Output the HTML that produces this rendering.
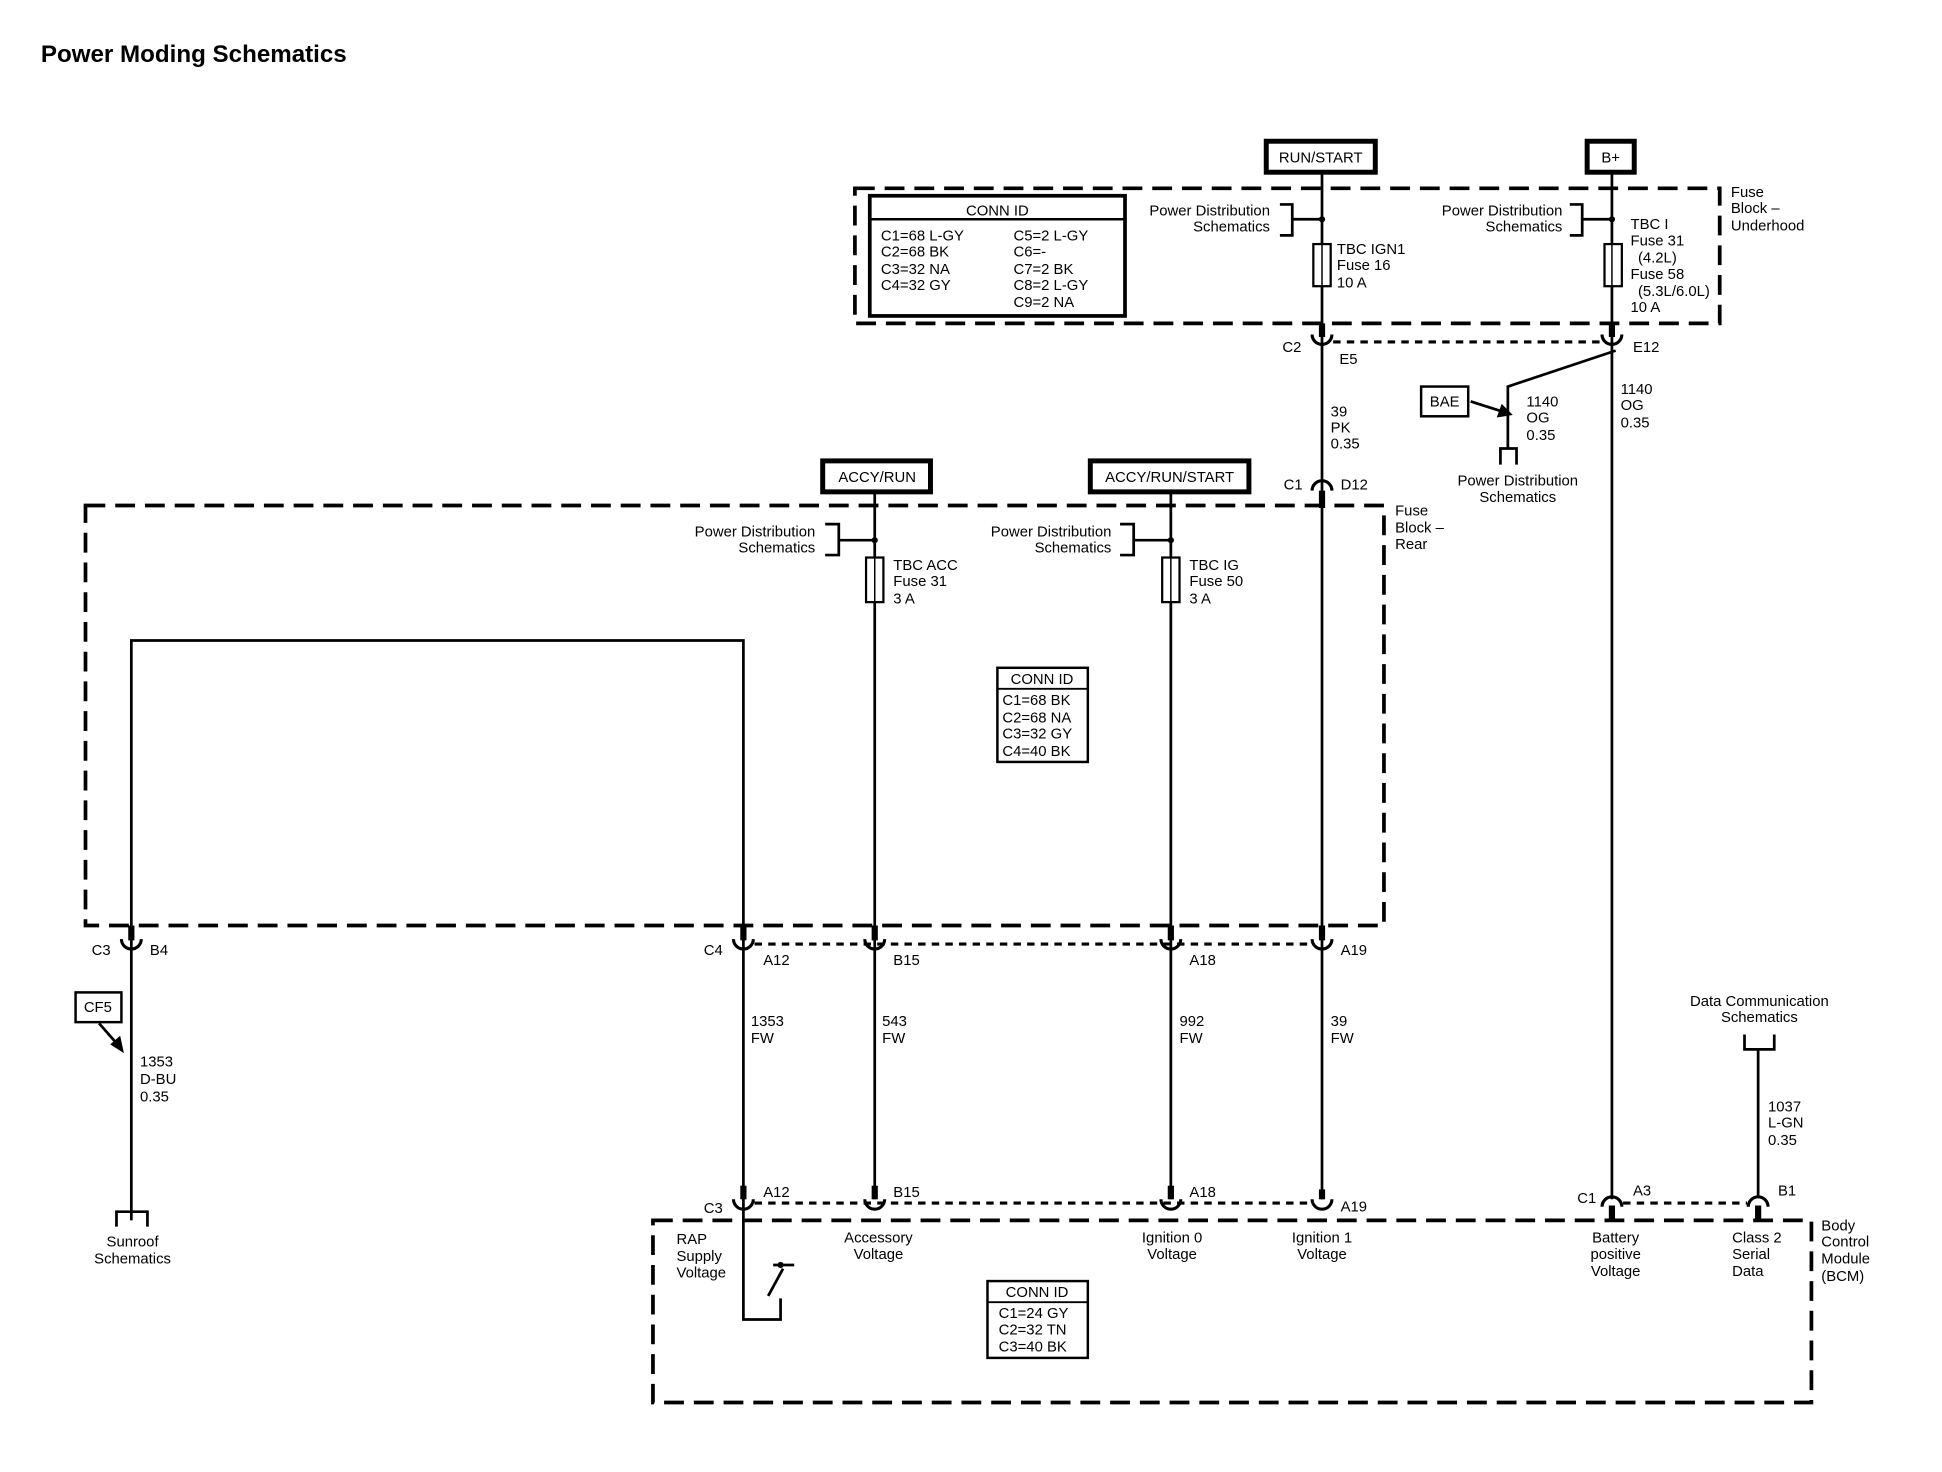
<!DOCTYPE html>
<html><head><meta charset="utf-8"><style>
html,body{margin:0;padding:0;background:#fff;}
svg{display:block;}
text{font-family:"Liberation Sans",Arial,sans-serif;font-size:12px;fill:#000;}
</style></head><body>
<svg width="1942" height="1472" viewBox="0 0 1567.4 1188.1" preserveAspectRatio="none" xmlns="http://www.w3.org/2000/svg">
<g fill="none" stroke="#000">
<rect x="690" y="152" width="698" height="109" stroke-width="3" stroke-dasharray="16,8"/>
<rect x="69" y="408" width="1048" height="339" stroke-width="3" stroke-dasharray="16,8"/>
<rect x="527" y="985" width="935" height="147" stroke-width="3" stroke-dasharray="16,8"/>
<rect x="1022" y="114" width="88" height="25" stroke-width="4"/>
<rect x="1281" y="114" width="38" height="25" stroke-width="4"/>
<rect x="664" y="372" width="87" height="25" stroke-width="4"/>
<rect x="880" y="372" width="128" height="25" stroke-width="4"/>
<rect x="1147" y="312" width="38" height="24" stroke-width="2"/>
<rect x="61" y="801" width="37" height="24" stroke-width="2"/>
<rect x="702" y="158" width="206" height="97" stroke-width="3"/>
<line x1="702" y1="177" x2="908" y2="177" stroke-width="2"/>
<rect x="805" y="539" width="73" height="76" stroke-width="2"/>
<line x1="805" y1="556" x2="878" y2="556" stroke-width="1.5"/>
<rect x="797" y="1034" width="81" height="62" stroke-width="2"/>
<line x1="797" y1="1051" x2="878" y2="1051" stroke-width="1.5"/>
<g stroke-width="2.2">
<line x1="1067" y1="140" x2="1067" y2="968"/>
<line x1="1301" y1="140" x2="1301" y2="968"/>
<line x1="706" y1="398" x2="706" y2="968"/>
<line x1="945" y1="398" x2="945" y2="968"/>
<polyline points="106,985 106,517 600,517 600,1065 630,1065 630,1048"/>
<line x1="1419" y1="847" x2="1419" y2="966"/>
<polyline points="1304,283 1217,312 1217,362"/>
<polyline points="1211,375 1211,362 1224,362 1224,375"/>
<polyline points="94,990 94,978 119,978 119,990"/>
<polyline points="1408,835 1408,847 1432,847 1432,835"/>
<polyline points="1033,165 1043,165 1043,190 1033,190"/><line x1="1043" y1="177" x2="1067" y2="177"/>
<polyline points="1267,165 1277,165 1277,190 1267,190"/><line x1="1277" y1="177" x2="1301" y2="177"/>
<polyline points="666,423 677,423 677,448 666,448"/><line x1="677" y1="436" x2="706" y2="436"/>
<polyline points="904,423 915,423 915,448 904,448"/><line x1="915" y1="436" x2="945" y2="436"/>
<line x1="620" y1="1046" x2="632" y2="1024"/>
<line x1="624" y1="1021" x2="641" y2="1021"/>
<line x1="1187" y1="324" x2="1212" y2="332"/>
<line x1="80" y1="826" x2="94" y2="842"/>
</g>
<polygon points="1221,335 1208,337 1212,326" fill="#000" stroke="none"/>
<polygon points="100,850 89,843 97,836" fill="#000" stroke="none"/>
<g stroke-width="1.8" fill="#fff">
<rect x="1060" y="197" width="14" height="34"/>
<rect x="1295" y="197" width="14" height="34"/>
<rect x="699" y="450" width="14" height="36"/>
<rect x="938" y="450" width="14" height="36"/>
</g>
<g stroke-width="1.2"><line x1="1067" y1="197" x2="1067" y2="231"/><line x1="1301" y1="197" x2="1301" y2="231"/><line x1="706" y1="450" x2="706" y2="486"/><line x1="945" y1="450" x2="945" y2="486"/></g>
<g stroke-width="2.5" stroke-dasharray="6,5">
<line x1="1076" y1="276" x2="1294" y2="276"/>
<line x1="609" y1="762" x2="1060" y2="762"/>
<line x1="609" y1="971" x2="1060" y2="971"/>
<line x1="1310" y1="971" x2="1410" y2="971"/>
</g>
<g stroke-width="5">
<line x1="1067" y1="261" x2="1067" y2="272"/><line x1="1301" y1="261" x2="1301" y2="272"/>
<line x1="1067" y1="396" x2="1067" y2="410"/>
<line x1="106" y1="747" x2="106" y2="759"/><line x1="600" y1="747" x2="600" y2="759"/><line x1="706" y1="747" x2="706" y2="759"/><line x1="945" y1="747" x2="945" y2="759"/><line x1="1067" y1="747" x2="1067" y2="759"/>
<line x1="600" y1="957" x2="600" y2="968"/><line x1="706" y1="957" x2="706" y2="968"/><line x1="945" y1="957" x2="945" y2="968"/><line x1="1067" y1="960" x2="1067" y2="968"/>
<line x1="1301" y1="973" x2="1301" y2="986"/><line x1="1419" y1="973" x2="1419" y2="986"/>
</g>
<g stroke-width="2.5">
<path d="M1059,270 a8,8 0 0 0 16,0"/><path d="M1293,270 a8,8 0 0 0 16,0"/>
<path d="M1059,396 a8,8 0 0 1 16,0"/>
<path d="M98,758 a8,8 0 0 0 16,0"/><path d="M592,758 a8,8 0 0 0 16,0"/><path d="M698,758 a8,8 0 0 0 16,0"/><path d="M937,758 a8,8 0 0 0 16,0"/><path d="M1059,758 a8,8 0 0 0 16,0"/>
<path d="M592,968 a8,8 0 0 0 16,0"/><path d="M698,968 a8,8 0 0 0 16,0"/><path d="M937,968 a8,8 0 0 0 16,0"/><path d="M1059,968 a8,8 0 0 0 16,0"/>
<path d="M1293,974 a8,8 0 0 1 16,0"/><path d="M1411,974 a8,8 0 0 1 16,0"/>
</g>
</g>
<g fill="#000"><circle cx="1067" cy="177" r="2.5"/><circle cx="1301" cy="177" r="2.5"/><circle cx="706" cy="436" r="2.5"/><circle cx="945" cy="436" r="2.5"/><circle cx="630" cy="1021" r="2.5"/></g>

<text x="33" y="50" style="font-size:19.5px;font-weight:bold">Power Moding Schematics</text>
<g style="font-size:13px">
<text x="1066" y="131" text-anchor="middle">RUN/START</text>
<text x="1300" y="131" text-anchor="middle">B+</text>
<text x="708" y="389" text-anchor="middle">ACCY/RUN</text>
<text x="944" y="389" text-anchor="middle">ACCY/RUN/START</text>
<text x="1166" y="328" text-anchor="middle">BAE</text>
<text x="79" y="817" text-anchor="middle">CF5</text>
</g>
<text x="805" y="174" text-anchor="middle">CONN ID</text>
<text x="711" y="194">C1=68 L-GY</text><text x="711" y="207">C2=68 BK</text><text x="711" y="221">C3=32 NA</text><text x="711" y="234">C4=32 GY</text>
<text x="818" y="194">C5=2 L-GY</text><text x="818" y="207">C6=-</text><text x="818" y="221">C7=2 BK</text><text x="818" y="234">C8=2 L-GY</text><text x="818" y="248">C9=2 NA</text>
<text x="841" y="552" text-anchor="middle">CONN ID</text>
<text x="809" y="569">C1=68 BK</text><text x="809" y="583">C2=68 NA</text><text x="809" y="596">C3=32 GY</text><text x="809" y="610">C4=40 BK</text>
<text x="837" y="1047" text-anchor="middle">CONN ID</text>
<text x="806" y="1064">C1=24 GY</text><text x="806" y="1077">C2=32 TN</text><text x="806" y="1091">C3=40 BK</text>

<g text-anchor="end">
<text x="1025" y="174">Power Distribution</text><text x="1025" y="187">Schematics</text>
<text x="1261" y="174">Power Distribution</text><text x="1261" y="187">Schematics</text>
<text x="658" y="433">Power Distribution</text><text x="658" y="446">Schematics</text>
<text x="897" y="433">Power Distribution</text><text x="897" y="446">Schematics</text>
</g>
<text x="1079" y="205">TBC IGN1</text><text x="1079" y="218">Fuse 16</text><text x="1079" y="232">10 A</text>
<text x="1316" y="185">TBC I</text><text x="1316" y="198">Fuse 31</text><text x="1322" y="212">(4.2L)</text><text x="1316" y="225">Fuse 58</text><text x="1322" y="239">(5.3L/6.0L)</text><text x="1316" y="252">10 A</text>
<text x="1397" y="159">Fuse</text><text x="1397" y="172">Block –</text><text x="1397" y="186">Underhood</text>
<text x="1035" y="284">C2</text><text x="1081" y="294">E5</text><text x="1318" y="284">E12</text>
<text x="1074" y="336">39</text><text x="1074" y="349">PK</text><text x="1074" y="362">0.35</text>
<text x="1232" y="328">1140</text><text x="1232" y="341">OG</text><text x="1232" y="355">0.35</text>
<text x="1308" y="318">1140</text><text x="1308" y="331">OG</text><text x="1308" y="345">0.35</text>
<text x="1225" y="392" text-anchor="middle">Power Distribution</text><text x="1225" y="405" text-anchor="middle">Schematics</text>
<text x="1036" y="395">C1</text><text x="1082" y="395">D12</text>
<text x="1126" y="416">Fuse</text><text x="1126" y="430">Block –</text><text x="1126" y="443">Rear</text>
<text x="721" y="460">TBC ACC</text><text x="721" y="473">Fuse 31</text><text x="721" y="487">3 A</text>
<text x="960" y="460">TBC IG</text><text x="960" y="473">Fuse 50</text><text x="960" y="487">3 A</text>
<text x="74" y="771">C3</text><text x="121" y="771">B4</text><text x="568" y="771">C4</text>
<text x="616" y="779">A12</text><text x="721" y="779">B15</text><text x="960" y="779">A18</text><text x="1082" y="771">A19</text>
<text x="606" y="828">1353</text><text x="606" y="842">FW</text>
<text x="712" y="828">543</text><text x="712" y="842">FW</text>
<text x="952" y="828">992</text><text x="952" y="842">FW</text>
<text x="1074" y="828">39</text><text x="1074" y="842">FW</text>
<text x="113" y="861">1353</text><text x="113" y="875">D-BU</text><text x="113" y="889">0.35</text>
<text x="107" y="1006" text-anchor="middle">Sunroof</text><text x="107" y="1020" text-anchor="middle">Schematics</text>
<text x="1420" y="812" text-anchor="middle">Data Communication</text><text x="1420" y="825" text-anchor="middle">Schematics</text>
<text x="1427" y="897">1037</text><text x="1427" y="910">L-GN</text><text x="1427" y="924">0.35</text>
<text x="568" y="979">C3</text><text x="616" y="966">A12</text><text x="721" y="966">B15</text><text x="960" y="966">A18</text><text x="1082" y="978">A19</text>
<text x="1273" y="971">C1</text><text x="1318" y="965">A3</text><text x="1435" y="965">B1</text>
<text x="546" y="1004">RAP</text><text x="546" y="1018">Supply</text><text x="546" y="1031">Voltage</text>
<text x="709" y="1003" text-anchor="middle">Accessory</text><text x="709" y="1016" text-anchor="middle">Voltage</text>
<text x="946" y="1003" text-anchor="middle">Ignition 0</text><text x="946" y="1016" text-anchor="middle">Voltage</text>
<text x="1067" y="1003" text-anchor="middle">Ignition 1</text><text x="1067" y="1016" text-anchor="middle">Voltage</text>
<text x="1304" y="1003" text-anchor="middle">Battery</text><text x="1304" y="1016" text-anchor="middle">positive</text><text x="1304" y="1030" text-anchor="middle">Voltage</text>
<text x="1398" y="1003">Class 2</text><text x="1398" y="1016">Serial</text><text x="1398" y="1030">Data</text>
<text x="1470" y="993">Body</text><text x="1470" y="1006">Control</text><text x="1470" y="1020">Module</text><text x="1470" y="1034">(BCM)</text>
</svg>
</body></html>
